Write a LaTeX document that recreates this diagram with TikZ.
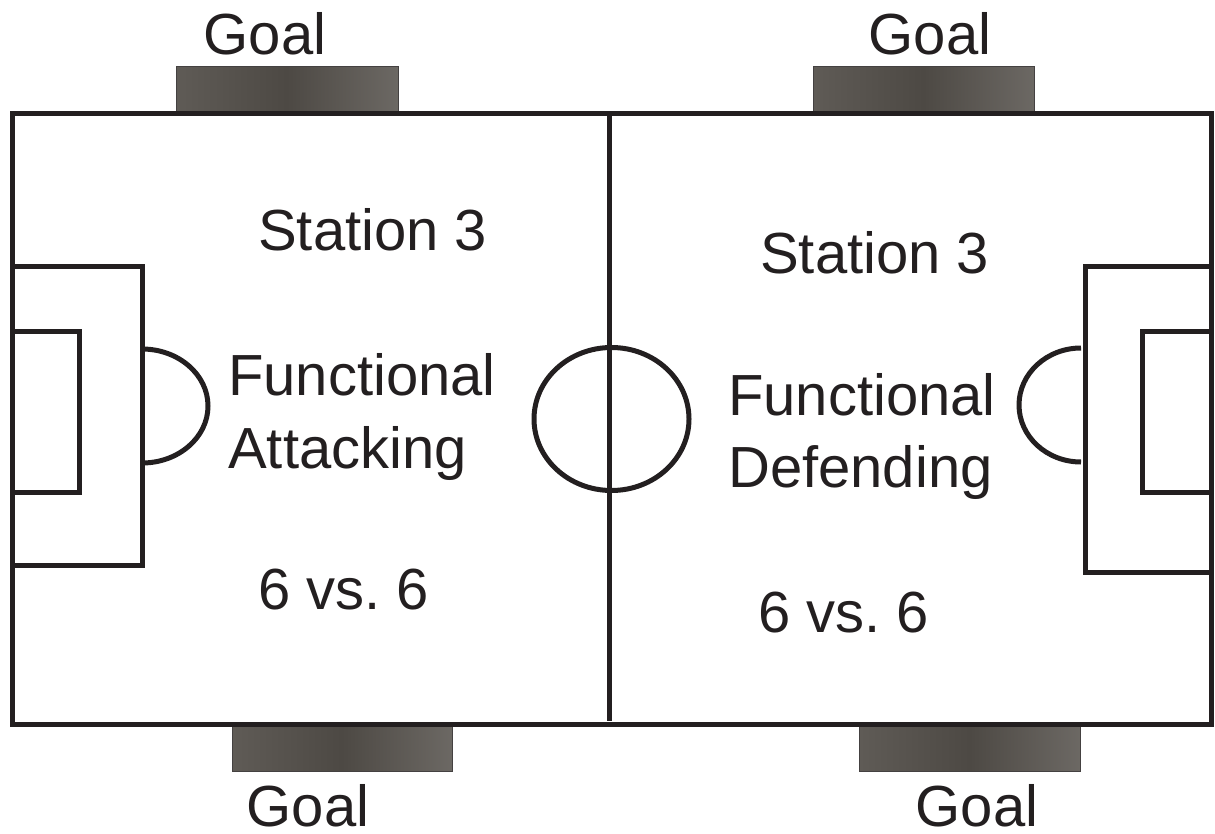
\documentclass[tikz,border=0pt]{standalone}
\usepackage{fontspec}
\setmainfont{Liberation Sans}
\frenchspacing
\definecolor{ink}{HTML}{231F20}
\definecolor{goalA}{HTML}{5F5B56}
\definecolor{goalB}{HTML}{4D4944}
\begin{document}
\begin{tikzpicture}[x=1pt,y=-1pt,
  fieldline/.style={draw=ink,line width=5pt},
  goalbox/.style={draw=ink!85,line width=1pt,left color=goalA,right color=goalA!92!white,middle color=goalB},
  lbl/.style={text=ink,inner sep=0pt,font=\fontsize{58}{60}\selectfont},
]
\useasboundingbox (0,0) rectangle (1215,834);
% goals
\path[goalbox] (176,67) rectangle (398,113);
\path[goalbox] (813,67) rectangle (1034,113);
\path[goalbox] (232,725) rectangle (452,771);
\path[goalbox] (859,725) rectangle (1080,771);
% field
\draw[fieldline] (12,114) rectangle (1211,724);
\draw[fieldline] (609,114) -- (609,721);
\draw[fieldline] (611.5,419) ellipse [x radius=77.5pt, y radius=71.5pt];
% left penalty area
\draw[fieldline] (12,267) -- (142,267) -- (142,565) -- (12,565);
\draw[fieldline] (12,331) -- (79,331) -- (79,492) -- (12,492);
\draw[fieldline] (142,349) arc[start angle=90, end angle=-90, x radius=66pt, y radius=57pt];
% right penalty area
\draw[fieldline] (1211,267) -- (1085,267) -- (1085,572) -- (1211,572);
\draw[fieldline] (1211,331) -- (1142.5,331) -- (1142.5,492.5) -- (1211,492.5);
\draw[fieldline] (1081,348) arc[start angle=90, end angle=270, x radius=62pt, y radius=57pt];
% goal labels
\node[lbl,anchor=base] (g1) at (265,55) {Goal};
\node[lbl,anchor=base] (g2) at (930,55) {Goal};
\node[lbl,anchor=base] (g3) at (308,826) {Goal};
\node[lbl,anchor=base] (g4) at (977,826) {Goal};
% left half texts
\node[lbl,anchor=base west] (s1) at (258,251) {Station 3};
\node[lbl,anchor=base west] (f1) at (228,395) {Functional};
\node[lbl,anchor=base west] (a1) at (228,468) {Attacking};
\node[lbl,anchor=base west] (v1) at (258,609) {6 vs. 6};
% right half texts
\node[lbl,anchor=base west] (s2) at (760,273) {Station 3};
\node[lbl,anchor=base west] (f2) at (728,415) {Functional};
\node[lbl,anchor=base west] (d2) at (728,487) {Defending};
\node[lbl,anchor=base west] (v2) at (758,632) {6 vs. 6};
\end{tikzpicture}
\end{document}
